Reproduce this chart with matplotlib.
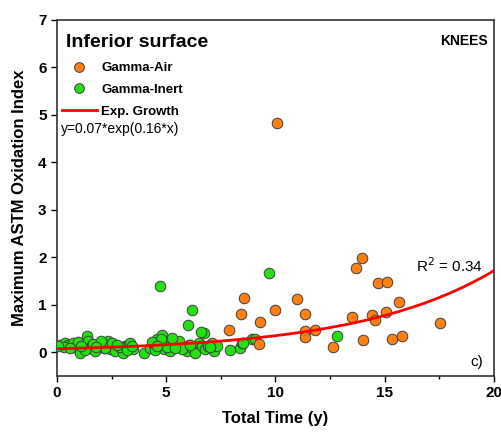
import numpy as np
import matplotlib
matplotlib.use("Agg")
import matplotlib.pyplot as plt
from matplotlib.lines import Line2D

plt.rcParams['font.family'] = ['Liberation Sans', 'DejaVu Sans']

# Gamma-Air (orange)
air_x = [10.08, 8.55, 8.43, 7.89, 9.27, 9.97, 9.24, 11.0, 11.33, 11.33, 11.33, 11.83,
         12.63, 13.49, 13.67, 13.94, 14.0, 14.4, 14.56, 14.7, 15.12, 15.05, 15.32,
         15.66, 15.81, 17.54]
air_y = [4.83, 1.13, 0.80, 0.47, 0.64, 0.89, 0.18, 1.11, 0.81, 0.44, 0.32, 0.46,
         0.11, 0.75, 1.78, 1.99, 0.25, 0.78, 0.67, 1.46, 1.47, 0.85, 0.28,
         1.06, 0.35, 0.61]

# Gamma-Inert (green)
inert_x = [0.14, 0.37, 0.52, 0.67, 0.75, 0.90, 1.06, 1.21, 1.36, 1.44, 1.51, 1.59, 1.74,
           1.90, 2.05, 2.13, 2.28, 2.35, 2.43, 2.58, 2.66, 3.04, 3.12, 3.27, 3.35, 3.50,
           3.96, 4.27, 4.42, 4.57, 4.65, 4.80, 4.88, 4.95, 5.11, 5.18, 5.34, 5.49, 5.57,
           5.80, 5.95, 6.02, 6.18, 6.33, 6.48, 6.64, 6.71, 6.79, 7.09, 7.17, 7.32, 7.94,
           8.39, 8.47, 8.93, 9.08, 4.72, 9.72, 6.18, 5.98, 6.59, 12.83, 8.52,
           0.30, 0.95, 1.30, 1.65, 2.20, 2.50, 2.90, 4.50, 4.75, 5.05, 5.25, 6.90, 3.20,
           1.10, 2.00, 4.35, 5.70, 0.05, 0.60, 1.80, 2.75, 3.45, 4.60, 5.40, 6.10, 7.00]
inert_y = [0.16, 0.20, 0.16, 0.13, 0.20, 0.09, -0.01, 0.16, 0.34, 0.23, 0.09, 0.16, 0.02,
           0.13, 0.20, 0.09, 0.16, 0.23, 0.06, 0.13, 0.02, -0.01, 0.13, 0.16, 0.20, 0.06,
           -0.01, 0.09, 0.16, 0.27, 0.20, 0.37, 0.06, 0.16, 0.23, 0.02, 0.13, 0.16, 0.23,
           0.09, 0.02, 0.16, 0.09, -0.01, 0.20, 0.13, 0.41, 0.06, 0.20, 0.02, 0.13, 0.04,
           0.08, 0.20, 0.27, 0.27, 1.40, 1.66, 0.89, 0.57, 0.42, 0.35, 0.20,
           0.10, 0.22, 0.05, 0.18, 0.08, 0.19, 0.10, 0.05, 0.28, 0.10, 0.30, 0.12, 0.04,
           0.12, 0.24, 0.22, 0.07, 0.12, 0.08, 0.10, 0.15, 0.12, 0.12, 0.08, 0.14, 0.10]

fit_a, fit_b = 0.07, 0.16

fig = plt.figure(figsize=(5.02, 4.34), dpi=100)
ax = fig.add_axes([0.1135, 0.134, 0.8705, 0.820])

orange = '#FF7F11'
green = '#22E011'
ax.scatter(inert_x, inert_y, s=58, c=green, edgecolors='#404040', linewidths=0.7, zorder=3)
ax.scatter(air_x, air_y, s=58, c=orange, edgecolors='#404040', linewidths=0.7, zorder=3)
xx = np.linspace(0, 20, 200)
ax.plot(xx, fit_a * np.exp(fit_b * xx), color='#FF0000', lw=2, zorder=4)

ax.set_xlim(0, 20)
ax.set_ylim(-0.5, 7)
ax.set_xticks([0, 5, 10, 15, 20])
ax.set_xticks([2.5, 7.5, 12.5, 17.5], minor=True)
ax.set_yticks([0, 1, 2, 3, 4, 5, 6, 7])
for lab in ax.get_xticklabels() + ax.get_yticklabels():
    lab.set_fontweight('bold')
ax.tick_params(axis='both', which='major', labelsize=11, length=4, width=1)
ax.tick_params(axis='x', which='minor', length=2.5, width=1)
for sp in ax.spines.values():
    sp.set_linewidth(1.2)
    sp.set_color('#333333')

ax.set_xlabel('Total Time (y)', fontsize=12, fontweight='bold', labelpad=8)
ax.set_ylabel('Maximum ASTM Oxidation Index', fontsize=12, fontweight='bold', labelpad=8)

ax.text(0.02, 0.96, 'Inferior surface', transform=ax.transAxes, fontsize=14,
        fontweight='bold', va='top', ha='left')
ax.text(0.985, 0.96, 'KNEES', transform=ax.transAxes, fontsize=10,
        fontweight='bold', va='top', ha='right')
ax.text(0.01, 0.694, 'y=0.07*exp(0.16*x)', transform=ax.transAxes, fontsize=10,
        va='center', ha='left')
ax.text(0.975, 0.31, r'R$^2$ = 0.34', transform=ax.transAxes, fontsize=11,
        va='center', ha='right')
ax.text(0.975, 0.04, 'c)', transform=ax.transAxes, fontsize=11,
        va='center', ha='right')

handles = [Line2D([], [], ls='none', marker='o', markersize=7, markerfacecolor=orange,
                  markeredgecolor='#404040', markeredgewidth=0.7),
           Line2D([], [], ls='none', marker='o', markersize=7, markerfacecolor=green,
                  markeredgecolor='#404040', markeredgewidth=0.7),
           Line2D([], [], color='#FF0000', lw=2)]
leg = ax.legend(handles, ['Gamma-Air', 'Gamma-Inert', 'Exp. Growth'],
                loc='upper left', bbox_to_anchor=(0.0, 0.897), frameon=False,
                prop={'weight': 'bold', 'size': 9.5}, handlelength=2.6,
                handletextpad=0.35, labelspacing=0.72, borderaxespad=0.2,
                borderpad=0.2)

fig.savefig('out.png', dpi=100)
